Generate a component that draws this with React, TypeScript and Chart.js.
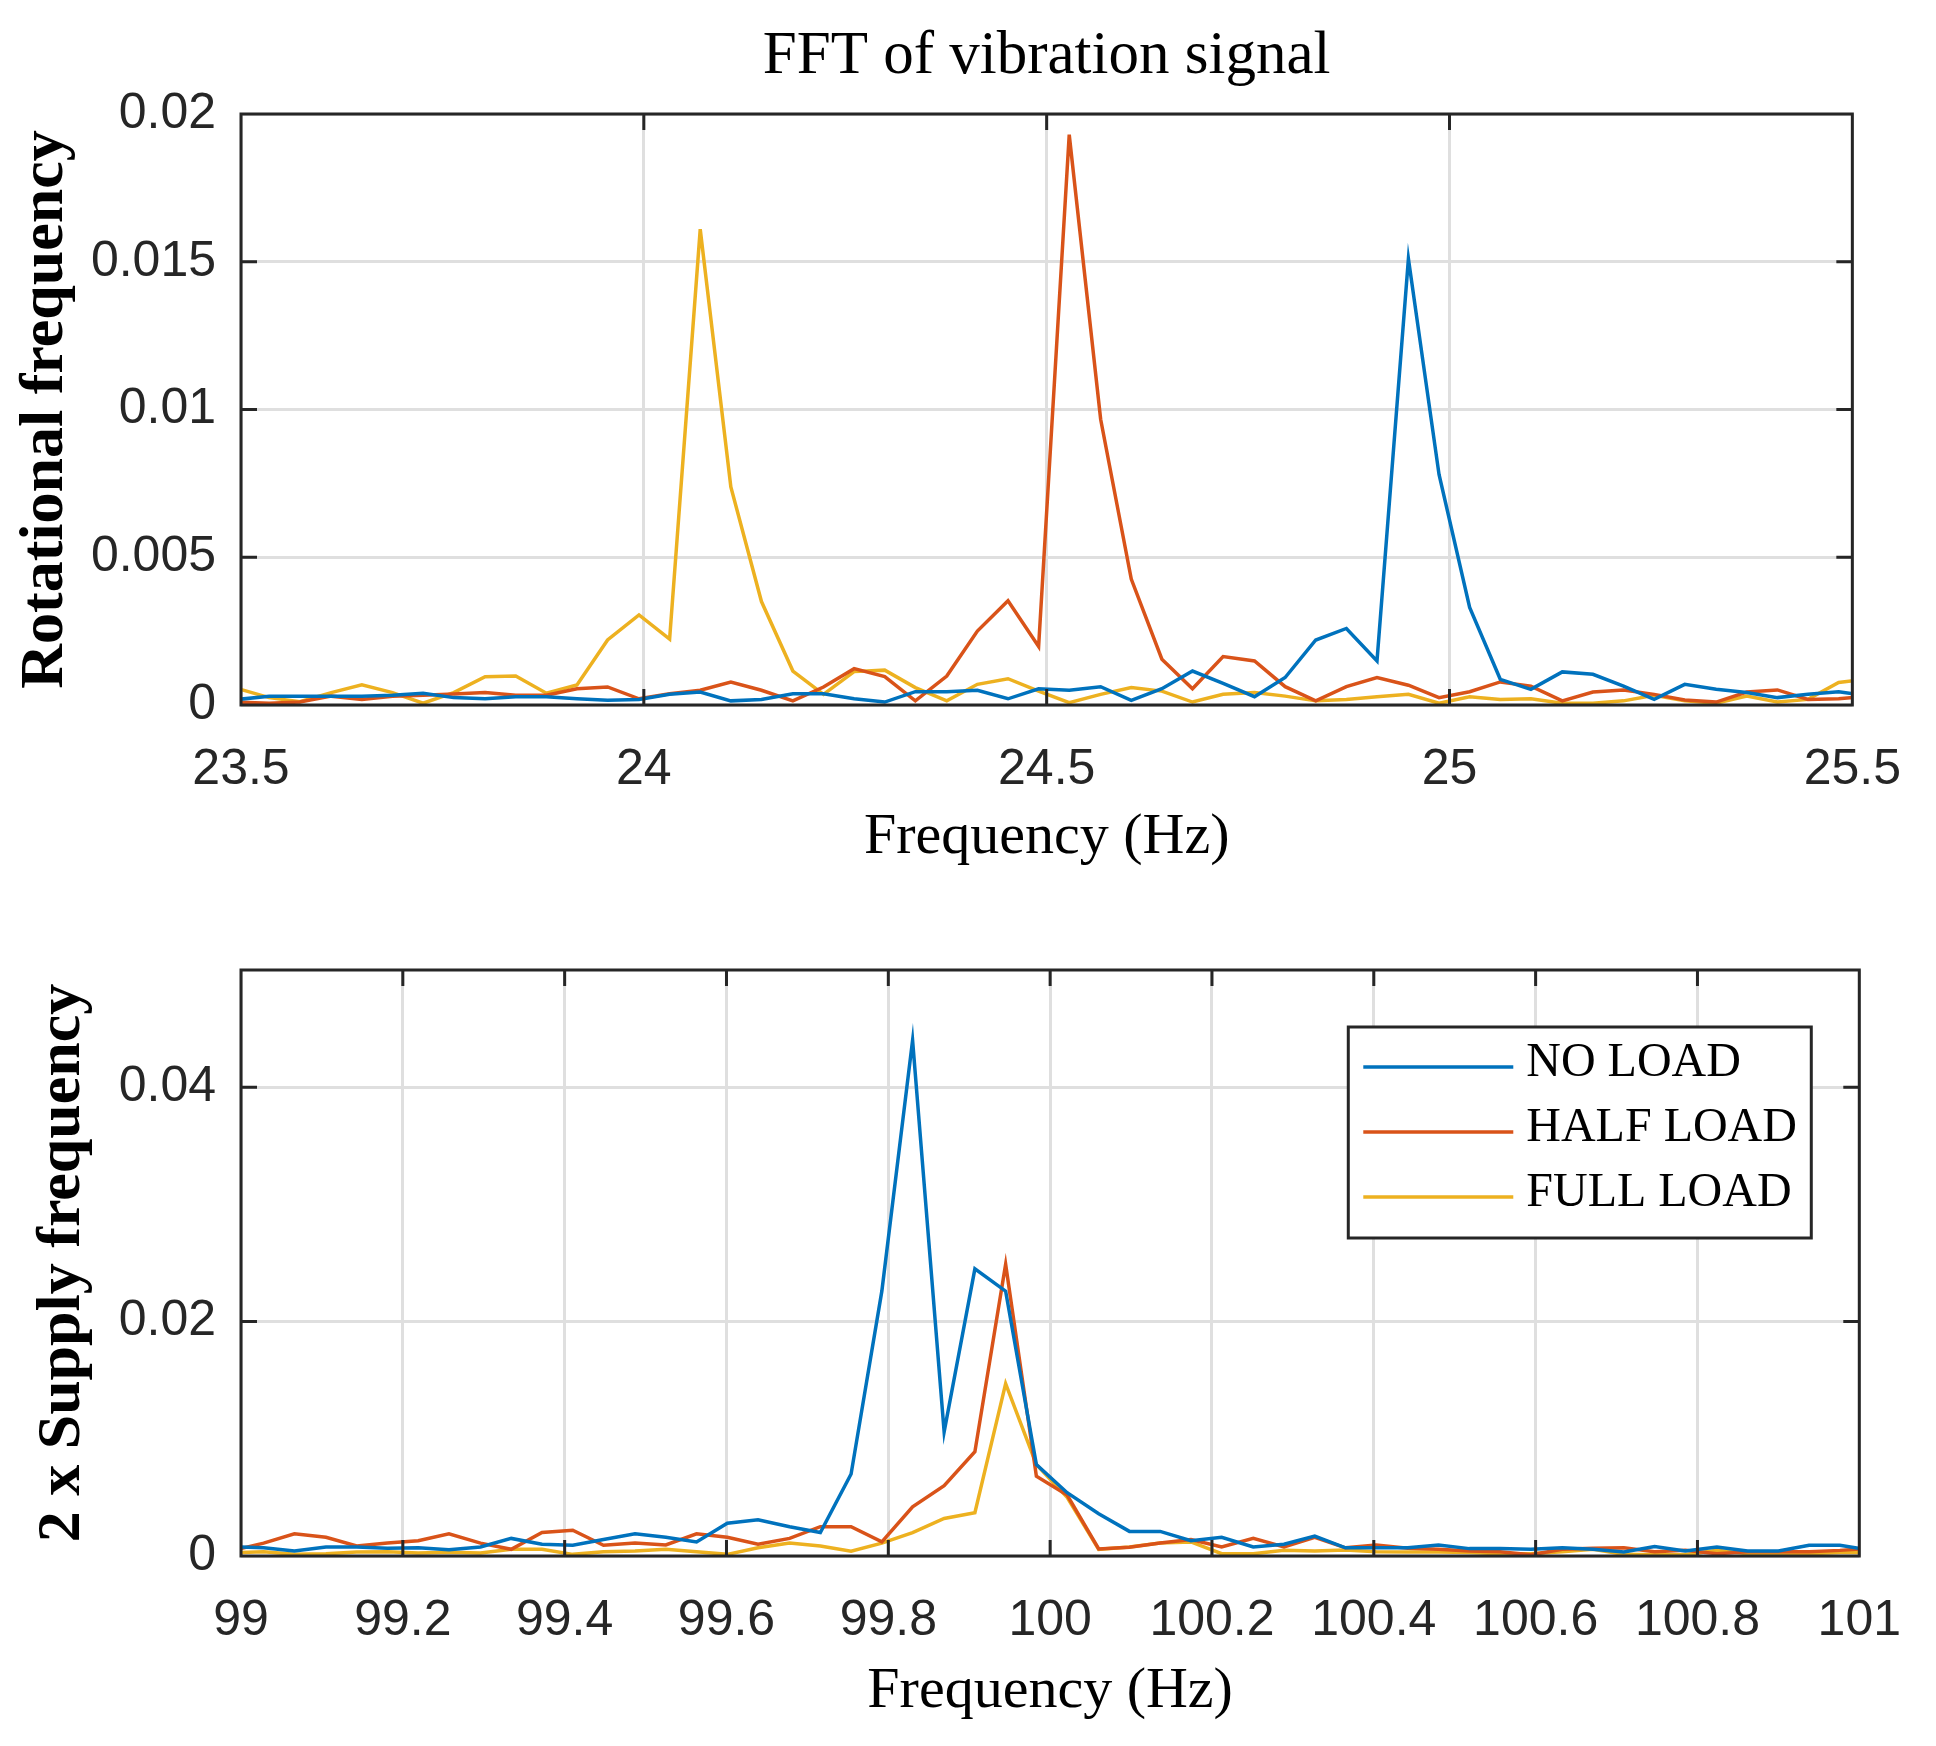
import React, { useEffect, useRef } from "react";
import { Chart, registerables } from "chart.js";

Chart.register(...registerables);

// ---------- DATA ----------
const seriesLabels = ["NO LOAD", "HALF LOAD", "FULL LOAD"];
const seriesColors = ["#0072BD", "#D95319", "#EDB120"];

const freqTop = [
  23.497, 23.535, 23.573, 23.612, 23.65, 23.688, 23.726, 23.764, 23.803, 23.841,
  23.879, 23.917, 23.955, 23.994, 24.032, 24.07, 24.108, 24.146, 24.185, 24.223,
  24.261, 24.299, 24.337, 24.376, 24.414, 24.452, 24.49, 24.528, 24.567, 24.605,
  24.643, 24.681, 24.719, 24.758, 24.796, 24.834, 24.872, 24.91, 24.949, 24.987,
  25.025, 25.063, 25.101, 25.14, 25.178, 25.216, 25.254, 25.292, 25.331, 25.369,
  25.407, 25.445, 25.483, 25.522,
];
const noLoadTop = [
  0.00019, 0.0003, 0.0003, 0.0003, 0.0003, 0.00033, 0.0004, 0.00025, 0.00021, 0.00028,
  0.00028, 0.00021, 0.00016, 0.00019, 0.00036, 0.00044, 0.00014, 0.00019, 0.00038, 0.00038,
  0.00021, 0.0001, 0.00045, 0.00045, 0.0005, 0.00021, 0.00055, 0.0005, 0.00062, 0.00016,
  0.00055, 0.00115, 0.00073, 0.00028, 0.00093, 0.0022, 0.00259, 0.00149, 0.0151, 0.0078,
  0.0033, 0.00087, 0.00053, 0.00112, 0.00104, 0.00064, 0.00019, 0.0007, 0.00053, 0.00042,
  0.00025, 0.00036, 0.00045, 0.0003,
];
const halfLoadTop = [
  0.0001, 0.00006, 0.0001, 0.0003, 0.00019, 0.0003, 0.00033, 0.00037, 0.00042, 0.00033,
  0.00033, 0.00055, 0.00061, 0.00021, 0.00038, 0.0005, 0.00078, 0.0005, 0.00014, 0.00061,
  0.00123, 0.00096, 0.00014, 0.00098, 0.0025, 0.00353, 0.00198, 0.0193, 0.00967, 0.00426,
  0.00155, 0.00055, 0.00164, 0.00149, 0.00062, 0.00014, 0.00062, 0.00093, 0.00067, 0.00025,
  0.00045, 0.00078, 0.00064, 0.00014, 0.00044, 0.00051, 0.00036, 0.00017, 0.0001, 0.00044,
  0.00051, 0.00019, 0.00021, 0.0003,
];
const fullLoadTop = [
  0.00055, 0.00025, 0.00011, 0.00042, 0.00068, 0.00042, 0.00006, 0.00042, 0.00096, 0.00098,
  0.0004, 0.00068, 0.0022, 0.00305, 0.00223, 0.0161, 0.00738, 0.0035, 0.00115, 0.00036,
  0.00113, 0.00118, 0.00059, 0.00014, 0.0007, 0.00089, 0.00047, 0.00008, 0.00036, 0.00059,
  0.00047, 0.0001, 0.00036, 0.00042, 0.0003, 0.00014, 0.00019, 0.00028, 0.00036, 0.00006,
  0.00028, 0.00019, 0.00021, 0.00006, 0.00006, 0.00014, 0.00033, 0.00014, 0.00006, 0.0003,
  0.0001, 0.00019, 0.00076, 0.0009,
];

const freqBottom = [
  98.99, 99.028, 99.066, 99.105, 99.143, 99.181, 99.219, 99.257, 99.296, 99.334,
  99.372, 99.41, 99.448, 99.487, 99.525, 99.563, 99.601, 99.639, 99.678, 99.716,
  99.754, 99.792, 99.83, 99.869, 99.907, 99.945, 99.983, 100.021, 100.06, 100.098,
  100.136, 100.174, 100.212, 100.251, 100.289, 100.327, 100.365, 100.403, 100.442, 100.48,
  100.518, 100.556, 100.594, 100.633, 100.671, 100.709, 100.747, 100.785, 100.824, 100.862,
  100.9, 100.938, 100.976, 101.015,
];
const noLoadBottom = [
  0.0008, 0.00071, 0.00043, 0.00077, 0.00077, 0.00066, 0.00071, 0.00054, 0.00077, 0.0015,
  0.001, 0.00091, 0.0014, 0.0019, 0.0016, 0.0012, 0.0028, 0.0031, 0.0025, 0.002,
  0.007, 0.0226, 0.044, 0.0106, 0.0245, 0.0226, 0.0078, 0.0054, 0.0036, 0.0021,
  0.0021, 0.0013, 0.0016, 0.00077, 0.001, 0.0017, 0.0007, 0.0007, 0.0007, 0.00094,
  0.00063, 0.00063, 0.00057, 0.0007, 0.00057, 0.00034, 0.0008, 0.00043, 0.00077, 0.00043,
  0.00043, 0.00091, 0.00091, 0.0005,
];
const halfLoadBottom = [
  0.00048, 0.0011, 0.0019, 0.0016, 0.00086, 0.0011, 0.0013, 0.0019, 0.0011, 0.00057,
  0.002, 0.0022, 0.00091, 0.0011, 0.00094, 0.0019, 0.0016, 0.001, 0.0015, 0.0025,
  0.0025, 0.0012, 0.0042, 0.006, 0.0089, 0.0249, 0.0068, 0.0052, 0.0006, 0.00075,
  0.0011, 0.0014, 0.00077, 0.0015, 0.00077, 0.0016, 0.0007, 0.00094, 0.00066, 0.00057,
  0.00043, 0.00037, 0.0001, 0.00057, 0.00066, 0.0007, 0.00037, 0.00048, 0.0002, 0.00037,
  0.00037, 0.00037, 0.00048, 0.00066,
];
const fullLoadBottom = [
  0.00026, 0.00037, 0.00014, 0.0002, 0.00034, 0.00037, 0.00026, 0.00031, 0.00026, 0.00057,
  0.00057, 0.00014, 0.00037, 0.00043, 0.00057, 0.00037, 0.00014, 0.00071, 0.0011, 0.00086,
  0.0004, 0.0011, 0.002, 0.0032, 0.0037, 0.0147, 0.0078, 0.005, 0.00057, 0.00077,
  0.0011, 0.0012, 0.0002, 0.0002, 0.00048, 0.00043, 0.00051, 0.00037, 0.00034, 0.00034,
  0.00029, 0.0002, 0.0002, 0.00037, 0.00057, 0.00014, 0.0001, 0.0001, 0.00048, 0.0002,
  0.0002, 0.0002, 0.00029, 0.00029,
];

const xTicksTop = [23.5, 24, 24.5, 25, 25.5];
const yTicksTop = [0, 0.005, 0.01, 0.015, 0.02];
const xTicksBottom = [99, 99.2, 99.4, 99.6, 99.8, 100, 100.2, 100.4, 100.6, 100.8, 101];
const yTicksBottom = [0, 0.02, 0.04];

const titleText = "FFT of vibration signal";
const xLabelText = "Frequency (Hz)";
const yLabelTop = "Rotational frequency";
const yLabelBottom = "2 x Supply frequency";

// ---------- STYLE ----------
const SERIF = "'Liberation Serif', 'Times New Roman', serif";
const SANS = "'Liberation Sans', Arial, Helvetica, sans-serif";
const AX = "#262626";
const GRID = "#dfdfdf";
const W = 1936;

function makeDatasets(freq: number[], series: number[][]) {
  return series.map((vals, i) => ({
    label: seriesLabels[i],
    data: vals.map((y, j) => ({ x: freq[j], y })),
    borderColor: seriesColors[i],
    backgroundColor: seriesColors[i],
    borderWidth: 3.5,
    pointRadius: 0,
    pointHoverRadius: 0,
    tension: 0,
    fill: false,
  }));
}

const boxPlugin = {
  id: "matlabBox",
  afterDatasetsDraw(chart: any) {
    const { ctx, chartArea: a, scales } = chart;
    const L = 16;
    ctx.save();
    ctx.strokeStyle = AX;
    ctx.lineWidth = 3;
    ctx.lineCap = "butt";
    ctx.beginPath();
    scales.x.ticks.forEach((t: any) => {
      const px = scales.x.getPixelForValue(t.value);
      if (px <= a.left + 1 || px >= a.right - 1) return;
      ctx.moveTo(px, a.bottom);
      ctx.lineTo(px, a.bottom - L);
      ctx.moveTo(px, a.top);
      ctx.lineTo(px, a.top + L);
    });
    scales.y.ticks.forEach((t: any) => {
      const py = scales.y.getPixelForValue(t.value);
      if (py <= a.top + 1 || py >= a.bottom - 1) return;
      ctx.moveTo(a.left, py);
      ctx.lineTo(a.left + L, py);
      ctx.moveTo(a.right, py);
      ctx.lineTo(a.right - L, py);
    });
    ctx.stroke();
    ctx.strokeRect(a.left, a.top, a.right - a.left, a.bottom - a.top);
    ctx.restore();
  },
};

const legendPlugin = {
  id: "matlabLegend",
  afterDraw(chart: any) {
    const { ctx, chartArea: a } = chart;
    const bw = 463;
    const bh = 211;
    const bx = a.right - 48 - bw;
    const by = a.top + 57;
    ctx.save();
    ctx.fillStyle = "#ffffff";
    ctx.fillRect(bx, by, bw, bh);
    ctx.strokeStyle = AX;
    ctx.lineWidth = 3;
    ctx.strokeRect(bx, by, bw, bh);
    chart.data.datasets.forEach((ds: any, i: number) => {
      const ry = by + 40 + i * 65;
      ctx.strokeStyle = ds.borderColor;
      ctx.lineWidth = 3.5;
      ctx.beginPath();
      ctx.moveTo(bx + 15, ry);
      ctx.lineTo(bx + 165, ry);
      ctx.stroke();
      ctx.fillStyle = "#000";
      ctx.font = `48px ${SERIF}`;
      ctx.textAlign = "left";
      ctx.textBaseline = "middle";
      ctx.fillText(ds.label, bx + 178, ry - 4);
    });
    ctx.restore();
  },
};

interface PanelOpts {
  xMin: number;
  xMax: number;
  yMax: number;
  xTicks: number[];
  yTicks: number[];
  title: string | null;
  yLabel: string;
  padTop: number;
  xAxisHeight: number;
  xTickPad: number;
  xTitlePad: number;
  yTitlePad: number;
}

function buildOptions(p: PanelOpts): any {
  return {
    animation: false,
    responsive: false,
    devicePixelRatio: 1,
    events: [],
    layout: { padding: { left: 0, right: W - 1869, top: p.padTop, bottom: 0 } },
    plugins: {
      legend: { display: false },
      tooltip: { enabled: false },
      title: p.title
        ? {
            display: true,
            fullSize: false,
            text: p.title,
            color: "#000",
            font: { family: SERIF, size: 61, weight: "normal", lineHeight: 1.2 },
            padding: { top: 20.4, bottom: 20.4 },
          }
        : { display: false },
    },
    scales: {
      x: {
        type: "linear",
        position: "bottom",
        min: p.xMin,
        max: p.xMax,
        afterBuildTicks: (s: any) => {
          s.ticks = p.xTicks.map((v) => ({ value: v }));
        },
        afterFit: (s: any) => {
          s.height = p.xAxisHeight;
        },
        grid: { color: GRID, lineWidth: 3, drawTicks: false },
        border: { display: false },
        ticks: {
          color: AX,
          font: { family: SANS, size: 50, lineHeight: 1.2 },
          padding: p.xTickPad,
          maxRotation: 0,
          minRotation: 0,
          autoSkip: false,
          callback: (v: number) => String(v),
        },
        title: {
          display: true,
          text: xLabelText,
          color: "#000",
          font: { family: SERIF, size: 58, weight: "normal", lineHeight: 1.2 },
          padding: { top: 0, bottom: p.xTitlePad },
        },
      },
      y: {
        type: "linear",
        position: "left",
        min: 0,
        max: p.yMax,
        afterBuildTicks: (s: any) => {
          s.ticks = p.yTicks.map((v) => ({ value: v }));
        },
        afterFit: (s: any) => {
          s.width = 241;
        },
        grid: { color: GRID, lineWidth: 3, drawTicks: false },
        border: { display: false },
        ticks: {
          color: AX,
          font: { family: SANS, size: 50, lineHeight: 1.2 },
          padding: 25,
          autoSkip: false,
          callback: (v: number) => String(v),
        },
        title: {
          display: true,
          text: p.yLabel,
          color: "#000",
          font: { family: SERIF, size: 62, weight: "bold", lineHeight: 1.2 },
          padding: { top: p.yTitlePad, bottom: 0 },
        },
      },
    },
  };
}

export default function App() {
  const topRef = useRef<HTMLCanvasElement | null>(null);
  const botRef = useRef<HTMLCanvasElement | null>(null);

  useEffect(() => {
    if (!topRef.current || !botRef.current) return;
    const c1 = new Chart(topRef.current, {
      type: "line",
      data: { datasets: makeDatasets(freqTop, [noLoadTop, halfLoadTop, fullLoadTop]) as any },
      options: buildOptions({
        xMin: 23.5,
        xMax: 25.5,
        yMax: 0.02,
        xTicks: xTicksTop,
        yTicks: yTicksTop,
        title: titleText,
        yLabel: yLabelTop,
        padTop: 0,
        xAxisHeight: 175,
        xTickPad: 35,
        xTitlePad: 7,
        yTitlePad: 9,
      }),
      plugins: [boxPlugin],
    });
    const c2 = new Chart(botRef.current, {
      type: "line",
      data: { datasets: makeDatasets(freqBottom, [noLoadBottom, halfLoadBottom, fullLoadBottom]) as any },
      options: buildOptions({
        xMin: 99,
        xMax: 101,
        yMax: 0.05,
        xTicks: xTicksBottom,
        yTicks: yTicksBottom,
        title: null,
        yLabel: yLabelBottom,
        padTop: 90,
        xAxisHeight: 190,
        xTickPad: 35,
        xTitlePad: 19,
        yTitlePad: 26,
      }),
      plugins: [boxPlugin, legendPlugin],
    });
    return () => {
      c1.destroy();
      c2.destroy();
    };
  }, []);

  return (
    <div
      style={{
        position: "absolute",
        left: 0,
        top: 0,
        width: W,
        height: 1746,
        background: "#ffffff",
        overflow: "hidden",
      }}
    >
      <canvas
        ref={topRef}
        width={W}
        height={880}
        style={{ position: "absolute", left: 0, top: 0, width: W, height: 880 }}
      />
      <canvas
        ref={botRef}
        width={W}
        height={866}
        style={{ position: "absolute", left: 0, top: 880, width: W, height: 866 }}
      />
    </div>
  );
}
